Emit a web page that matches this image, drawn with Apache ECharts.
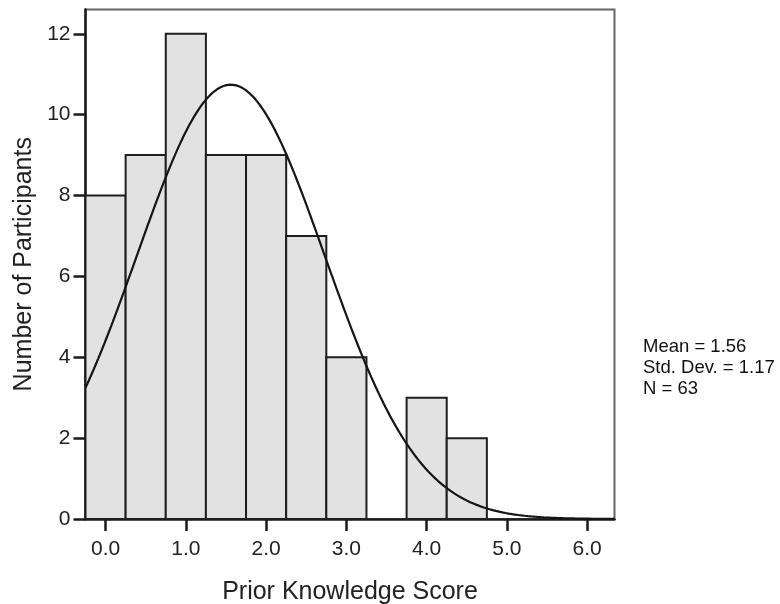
<!DOCTYPE html>
<html>
<head>
<meta charset="utf-8">
<script src="https://cdn.jsdelivr.net/npm/echarts@6/dist/echarts.min.js"></script>
<style>
  html, body { margin: 0; padding: 0; background: #fff; }
  #chart { width: 780px; height: 604px; }
</style>
</head>
<body>
<div id="chart"></div>
<script>
// Histogram bins: centre of each score bin and the number of participants in it
const scoreBinCenters = [0.0, 0.5, 1.0, 1.5, 2.0, 2.5, 3.0, 3.5, 4.0, 4.5];
const participantCounts = [8, 9, 12, 9, 9, 7, 4, 0, 3, 2];
const binWidth = 0.5;

// Summary statistics shown beside the plot
const meanScore = 1.56;
const stdDevScore = 1.17;
const sampleSize = 63;

// Axis ticks
const xTickValues = [0, 1, 2, 3, 4, 5, 6];
const xTickLabels = ['0.0', '1.0', '2.0', '3.0', '4.0', '5.0', '6.0'];
const yTickValues = [0, 2, 4, 6, 8, 10, 12];

const xMin = -0.25, xMax = 6.34;
const yMin = 0, yMax = 12.6;

const FONT = "'Liberation Sans', Arial, sans-serif";

// Normal curve scaled to counts per bin: N * binWidth * pdf(x)
function normalCount(x) {
  const z = (x - meanScore) / stdDevScore;
  return sampleSize * binWidth * Math.exp(-0.5 * z * z) / (stdDevScore * Math.sqrt(2 * Math.PI));
}
const curvePoints = [];
for (let i = 0; i <= 330; i++) {
  const x = xMin + (xMax - xMin) * i / 330;
  curvePoints.push([x, normalCount(x)]);
}

const binData = scoreBinCenters.map((c, i) => [c, participantCounts[i]]);

const chart = echarts.init(document.getElementById('chart'), null, { renderer: 'canvas' });

chart.setOption({
  animation: false,
  backgroundColor: '#ffffff',
  textStyle: { fontFamily: FONT },
  grid: {
    left: 85.5, right: 165.5, top: 9.5, bottom: 85,
    containLabel: false,
    outerBoundsMode: 'none',
    show: true, borderColor: '#666666', borderWidth: 2, backgroundColor: 'transparent'
  },
  xAxis: {
    type: 'value',
    min: xMin, max: xMax,
    name: 'Prior Knowledge Score',
    nameLocation: 'middle',
    nameGap: 61,
    nameTextStyle: { fontFamily: FONT, fontSize: 25, color: '#222' },
    axisLine: { show: true, onZero: false, lineStyle: { color: '#1a1a1a', width: 2.5 } },
    axisTick: { show: true, inside: false, length: 12, customValues: xTickValues, lineStyle: { color: '#1a1a1a', width: 2.5 } },
    axisLabel: {
      customValues: xTickValues,
      formatter: v => xTickLabels[xTickValues.indexOf(v)],
      margin: 20, fontFamily: FONT, fontSize: 21, color: '#222'
    },
    splitLine: { show: false }
  },
  yAxis: {
    type: 'value',
    min: yMin, max: yMax,
    name: 'Number of Participants',
    nameLocation: 'middle',
    nameGap: 46,
    nameTextStyle: { fontFamily: FONT, fontSize: 25, color: '#222' },
    axisLine: { show: true, onZero: false, lineStyle: { color: '#1a1a1a', width: 2.5 } },
    axisTick: { show: true, inside: false, length: 12, customValues: yTickValues, lineStyle: { color: '#1a1a1a', width: 2.5 } },
    axisLabel: {
      customValues: yTickValues,
      margin: 15, fontFamily: FONT, fontSize: 21, color: '#222'
    },
    splitLine: { show: false }
  },
  series: [
    {
      type: 'custom',
      data: binData,
      encode: { x: 0, y: 1 },
      z: 2,
      renderItem: function (params, api) {
        const center = api.value(0);
        const count = api.value(1);
        if (!count) return null;
        const p0 = api.coord([center - binWidth / 2, count]);
        const p1 = api.coord([center + binWidth / 2, 0]);
        return {
          type: 'rect',
          shape: { x: p0[0], y: p0[1], width: p1[0] - p0[0], height: p1[1] - p0[1] },
          style: { fill: '#e2e2e2', stroke: '#1e1e1e', lineWidth: 2 }
        };
      }
    },
    {
      type: 'line',
      data: curvePoints,
      showSymbol: false,
      smooth: false,
      z: 3,
      lineStyle: { color: '#151515', width: 2.2 }
    }
  ],
  graphic: [
    {
      type: 'text',
      left: 643,
      top: 336.5,
      style: {
        text: 'Mean = ' + meanScore.toFixed(2) + '\nStd. Dev. = ' + stdDevScore.toFixed(2) + '\nN = ' + sampleSize,
        font: '18.5px ' + FONT,
        lineHeight: 21,
        fill: '#111'
      }
    }
  ]
});
</script>
</body>
</html>
